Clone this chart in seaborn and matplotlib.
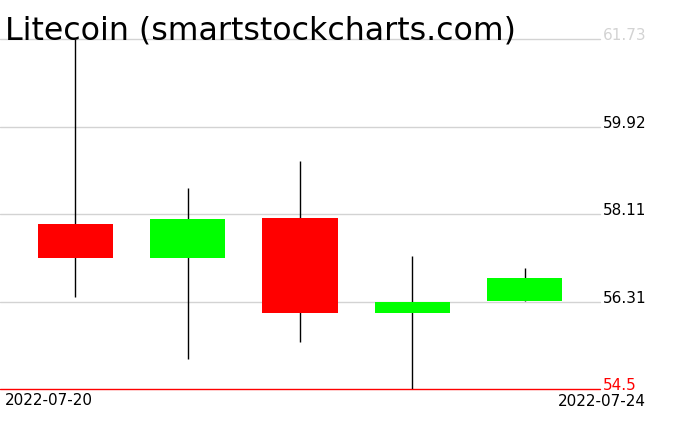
import matplotlib
matplotlib.use("Agg")
import matplotlib.pyplot as plt
import seaborn as sns

# ------------------------
# Data
# ------------------------
DATES = ["2022-07-20", "2022-07-21", "2022-07-22", "2022-07-23", "2022-07-24"]
OPEN = [57.91, 57.20, 58.04, 56.08, 56.33]
CLOSE = [57.20, 58.01, 56.08, 56.30, 56.80]
HIGH = [61.73, 58.65, 59.21, 57.25, 57.00]
LOW = [56.40, 55.13, 55.48, 54.50, 56.33]

GRID_LEVELS = [61.73, 59.92, 58.11, 56.31]
Y_MIN = 54.5
Y_MAX = 61.73

sns.set_theme(style="white")
plt.rcParams["font.family"] = ["DejaVu Sans"]

fig = plt.figure(figsize=(6.76, 4.31), dpi=100)
ax = fig.add_axes([0, (431 - 390.3) / 431, 600 / 676, (390.3 - 40) / 431])

x = list(range(len(DATES)))
ax.set_xlim(-0.667, len(DATES) - 1 + 0.667)
ax.set_ylim(Y_MIN, Y_MAX)

# grid lines + labels sitting on them at the right
for i, lvl in enumerate(GRID_LEVELS):
    ax.axhline(lvl, color="#d3d3d3", lw=1, zorder=1, clip_on=False)
    ax.text(1.005, lvl, f"{lvl:.2f}", transform=ax.get_yaxis_transform(),
            ha="left", va="baseline", fontsize=11,
            color="#d3d3d3" if i == 0 else "black")
ax.axhline(Y_MIN, color="red", lw=1, zorder=1, clip_on=False)
ax.text(1.005, Y_MIN, f"{Y_MIN}", transform=ax.get_yaxis_transform(),
        ha="left", va="baseline", fontsize=11, color="red")

# candles
for xi, o, c, h, l in zip(x, OPEN, CLOSE, HIGH, LOW):
    color = "#00ff00" if c >= o else "#ff0000"
    ax.vlines(xi, l, h, color="black", lw=1, zorder=2)
    ax.bar(xi, abs(c - o), bottom=min(o, c), width=0.667, color=color,
           edgecolor="none", zorder=3)

for s in ax.spines.values():
    s.set_visible(False)
ax.set_xticks([])
ax.set_yticks([])

fig.text(5 / 676, 1 - 40 / 431, "Litecoin (smartstockcharts.com)",
         fontsize=22.8, ha="left", va="baseline", color="black")
fig.text(5 / 676, 1 - 393 / 431, DATES[0], fontsize=11, ha="left", va="top",
         color="black")
fig.text(646 / 676, 1 - 394 / 431, DATES[-1], fontsize=11, ha="right", va="top",
         color="black")

fig.savefig("out.png", dpi=100, facecolor="white")
